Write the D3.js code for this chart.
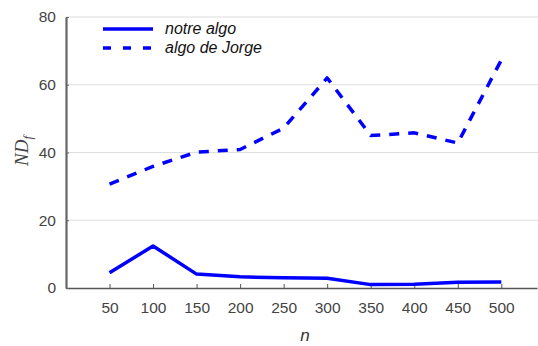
<!DOCTYPE html>
<html>
<head>
<meta charset="utf-8">
<script src="https://cdn.jsdelivr.net/npm/d3@7"></script>
<style>
  html, body { margin: 0; padding: 0; background: #fff; }
  svg { display: block; }
  .sans { font-family: "Liberation Sans", Arial, sans-serif; }
  .serif { font-family: "Liberation Serif", "Times New Roman", serif; }
</style>
</head>
<body>
<svg id="chart" width="538" height="346" class="sans"></svg>
<script>
// Problem sizes n
const sizes = [50, 100, 150, 200, 250, 300, 350, 400, 450, 500];
// ND_f for our algorithm
const notreAlgo = [4.5, 12.4, 4.1, 3.3, 3.0, 2.9, 1.0, 1.1, 1.7, 1.8];
// ND_f for Jorge's algorithm
const algoJorge = [30.7, 35.9, 40.1, 40.9, 47.2, 62.0, 45.0, 45.8, 42.8, 67.3];
// Axis ticks
const xTicks = [50, 100, 150, 200, 250, 300, 350, 400, 450, 500];
const yTicks = [0, 20, 40, 60, 80];

const series = [
  { name: "notre algo", values: notreAlgo, dash: null, legendDash: null },
  { name: "algo de Jorge", values: algoJorge, dash: "10,9", legendDash: "8,12" }
];

const svg = d3.select("#chart");
const plotLeft = 66, plotRight = 537, plotTop = 17, plotBottom = 288;

const x = d3.scaleLinear().domain([0, 541]).range([plotLeft, plotRight]);
const y = d3.scaleLinear().domain([0, 80]).range([plotBottom, plotTop]);

// horizontal grid
svg.append("g")
  .selectAll("line")
  .data(yTicks.filter(d => d > 0))
  .join("line")
  .attr("x1", plotLeft).attr("x2", 538)
  .attr("y1", d => y(d)).attr("y2", d => y(d))
  .attr("stroke", "#dedede").attr("stroke-width", 1.2);

// x axis
const xAxis = svg.append("g")
  .attr("transform", `translate(0,${plotBottom})`)
  .call(d3.axisBottom(x).tickValues(xTicks).tickSizeInner(-4).tickSizeOuter(0).tickPadding(14));
xAxis.attr("font-family", null);
xAxis.select(".domain").attr("stroke", "#555").attr("stroke-width", 1.5);
xAxis.selectAll(".tick line").attr("stroke", "#555").attr("stroke-width", 1);
xAxis.selectAll(".tick text").attr("class", "sans")
  .attr("font-size", 15.5).attr("fill", "#444");

// y axis
const yAxis = svg.append("g")
  .attr("transform", `translate(${plotLeft},0)`)
  .call(d3.axisLeft(y).tickValues(yTicks).tickSizeInner(-3).tickSizeOuter(0).tickPadding(10));
yAxis.attr("font-family", null);
yAxis.select(".domain").attr("stroke", "#666").attr("stroke-width", 2.2);
yAxis.selectAll(".tick line").attr("stroke", "#666").attr("stroke-width", 1);
yAxis.selectAll(".tick text").attr("class", "sans")
  .attr("font-size", 15.5).attr("fill", "#444");

// series lines
const line = d3.line()
  .x((d, i) => x(sizes[i]))
  .y(d => y(d));

series.forEach(s => {
  svg.append("path")
    .datum(s.values)
    .attr("fill", "none")
    .attr("stroke", "#0000ff")
    .attr("stroke-width", 3.5)
    .attr("stroke-linejoin", "round")
    .attr("stroke-dasharray", s.dash)
    .attr("d", line);
});

// legend
const legend = svg.append("g").attr("transform", "translate(103,29)");
series.forEach((s, i) => {
  const g = legend.append("g").attr("transform", `translate(0,${i * 19})`);
  g.append("line")
    .attr("x1", 0).attr("x2", 50)
    .attr("y1", 0).attr("y2", 0)
    .attr("stroke", "#0000ff").attr("stroke-width", 3.5)
    .attr("stroke-dasharray", s.legendDash);
  g.append("text").attr("class", "sans")
    .attr("x", 62).attr("y", 5)
    .attr("font-size", 16).attr("font-style", "italic").attr("fill", "#111")
    .text(s.name);
});

// axis titles
svg.append("text").attr("class", "sans")
  .attr("x", 305).attr("y", 341)
  .attr("text-anchor", "middle")
  .attr("font-size", 17).attr("font-style", "italic").attr("fill", "#333")
  .text("n");

const yLabel = svg.append("text").attr("class", "serif")
  .attr("transform", "translate(28,151) rotate(-90)")
  .attr("text-anchor", "middle")
  .attr("font-style", "italic").attr("font-size", 19).attr("fill", "#444");
yLabel.append("tspan").text("ND");
yLabel.append("tspan").attr("font-size", 13).attr("dy", 4).text("f");
</script>
</body>
</html>
